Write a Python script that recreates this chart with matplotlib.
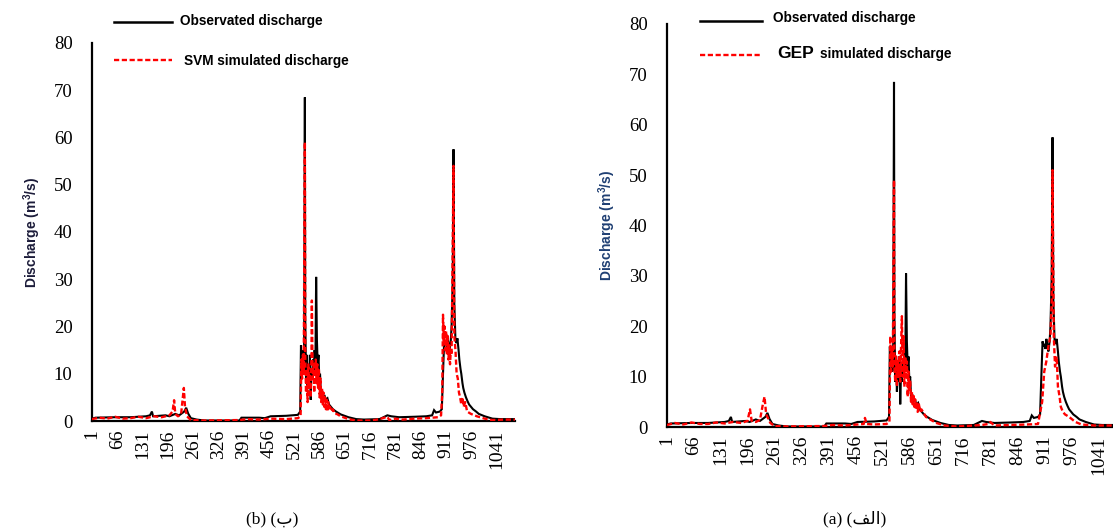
import matplotlib
matplotlib.use("Agg")
import matplotlib.pyplot as plt
from matplotlib.lines import Line2D

# ---------------- data ----------------
obs_days = [1, 10, 60, 100, 140, 150, 155, 158, 190, 200, 215, 225, 238, 243, 248, 255,
            270, 290, 380, 385, 430, 445, 460, 500, 530, 536, 538, 540, 542, 544, 546, 548,
            549, 551, 553, 555, 557, 559, 561, 563, 565, 567, 569, 571, 573, 575, 577, 579,
            581, 583, 585, 587, 589, 592, 595, 598, 602, 606, 610, 615, 620, 628, 640, 660,
            680, 700, 740, 760, 770, 790, 830, 860, 875, 880, 885, 895, 900, 903, 906, 908,
            910, 913, 915, 918, 920, 923, 925, 928, 930, 932, 935, 938, 940, 943, 945, 948,
            950, 953, 955, 958, 962, 966, 970, 975, 980, 988, 995, 1010, 1030, 1050, 1088]
obs_vals = [0.5, 0.7, 0.8, 0.8, 1.0, 1.2, 2.0, 1.0, 1.2, 1.0, 1.5, 1.2, 2.0, 2.8, 1.6, 0.6,
            0.3, 0.1, 0.1, 0.7, 0.7, 0.6, 1.0, 1.1, 1.3, 2.0, 16.0, 12.0, 15.0, 11.0, 13.0, 68.5,
            22.0, 9.0, 14.0, 7.0, 12.0, 9.0, 14.0, 4.5, 11.0, 9.0, 13.0, 10.0, 15.0, 11.0, 30.5, 17.0,
            12.0, 14.0, 9.0, 10.0, 6.0, 6.5, 5.0, 5.5, 4.5, 4.8, 3.5, 3.0, 2.5, 2.0, 1.4, 0.8,
            0.4, 0.3, 0.4, 1.2, 1.0, 0.8, 0.9, 1.0, 1.2, 2.3, 1.8, 2.0, 2.5, 10.0, 17.0, 16.0,
            16.5, 15.5, 17.5, 16.0, 15.0, 17.0, 20.0, 30.0, 57.5, 25.0, 17.0, 16.5, 17.5, 15.0, 13.0, 11.0,
            10.0, 8.0, 7.0, 6.0, 5.0, 4.2, 3.5, 3.0, 2.5, 2.0, 1.5, 1.0, 0.5, 0.4, 0.4]

svm_days = [1, 20, 40, 60, 80, 100, 120, 140, 160, 180, 200, 208, 212, 215, 222, 230, 237,
            240, 245, 255, 290, 380, 400, 430, 460, 500, 530, 537, 539, 541, 543, 545, 548, 549,
            551, 553, 555, 557, 559, 561, 563, 565, 566, 568, 570, 572, 574, 576, 578, 580, 582,
            584, 586, 588, 590, 592, 594, 596, 598, 600, 602, 604, 606, 608, 610, 613, 616, 620,
            625, 630, 640, 660, 680, 720, 740, 760, 765, 780, 800, 830, 860, 890, 898, 901, 903,
            905, 907, 909, 911, 913, 915, 917, 919, 921, 923, 925, 927, 930, 932, 935, 938, 941,
            944, 947, 950, 953, 956, 960, 965, 975, 990, 1010, 1030, 1060, 1088]
svm_vals = [0.4, 0.7, 0.5, 0.9, 0.5, 0.6, 0.9, 0.6, 1.0, 0.8, 1.2, 2.0, 4.4, 1.5, 1.0, 1.5, 7.0,
            3.0, 1.0, 0.2, 0.1, 0.2, 0.4, 0.3, 0.5, 0.4, 0.6, 1.0, 13.0, 9.0, 14.0, 10.0, 59.0, 14.0,
            6.0, 11.0, 4.0, 12.0, 7.0, 10.0, 5.0, 14.0, 25.5, 9.0, 12.0, 6.0, 11.0, 13.0, 8.0, 12.0, 7.0,
            11.0, 5.0, 9.0, 4.0, 7.0, 3.5, 6.0, 3.0, 5.0, 2.5, 4.5, 2.0, 4.0, 2.5, 3.0, 2.0, 2.5,
            1.5, 1.5, 1.0, 0.4, 0.1, 0.1, 0.4, 0.9, 0.2, 0.5, 0.3, 0.5, 0.6, 0.8, 1.2, 6.0, 22.5,
            17.0, 20.0, 15.0, 19.0, 14.0, 18.0, 13.0, 16.0, 12.0, 15.0, 14.0, 30.0, 54.0, 18.0, 15.0, 10.0, 9.0,
            6.0, 5.0, 3.5, 5.0, 3.0, 4.0, 2.0, 1.5, 1.0, 0.5, 0.2, 0.3, 0.3]

gep_days = [1, 20, 40, 60, 80, 100, 120, 140, 160, 180, 195, 201, 205, 215, 225, 232, 236,
            240, 250, 260, 290, 380, 400, 430, 460, 475, 478, 482, 500, 530, 537, 539, 541, 543,
            545, 548, 549, 551, 553, 555, 557, 559, 561, 563, 565, 567, 569, 571, 573, 575, 577,
            579, 581, 583, 585, 587, 589, 591, 593, 595, 597, 599, 601, 603, 605, 608, 611, 614,
            618, 625, 635, 650, 670, 700, 760, 775, 780, 790, 830, 870, 895, 905, 910, 915, 920,
            925, 928, 930, 933, 936, 940, 943, 947, 950, 955, 960, 970, 985, 1000, 1030, 1060, 1088]
gep_vals = [0.4, 0.8, 0.5, 0.9, 0.6, 0.6, 0.9, 0.7, 1.0, 0.8, 1.2, 3.5, 1.2, 1.0, 1.4, 4.5, 6.0,
            2.5, 0.8, 0.2, 0.1, 0.2, 0.4, 0.3, 0.5, 0.6, 1.8, 0.6, 0.5, 0.6, 1.0, 18.0, 11.0, 15.0,
            12.0, 49.0, 12.0, 9.0, 14.0, 8.0, 13.0, 10.0, 15.0, 9.0, 16.0, 22.0, 10.0, 18.0, 8.0, 14.0, 10.0,
            13.0, 6.0, 11.0, 7.0, 9.0, 5.0, 7.0, 4.5, 6.5, 4.0, 5.5, 3.5, 5.0, 3.0, 4.5, 3.0, 3.5,
            3.0, 2.0, 1.5, 0.8, 0.3, 0.1, 0.4, 0.6, 1.0, 0.3, 0.4, 0.5, 0.6, 5.0, 11.0, 13.0, 16.0,
            18.0, 25.0, 51.0, 18.0, 12.0, 14.0, 8.0, 6.0, 4.0, 3.0, 2.5, 2.0, 1.0, 0.5, 0.3, 0.3, 0.3]

tick_days = [1, 66, 131, 196, 261, 326, 391, 456, 521, 586, 651, 716, 781, 846, 911, 976, 1041]
y_ticks = [0, 10, 20, 30, 40, 50, 60, 70, 80]
n_days = 1088

# ---------------- figure ----------------
W, H = 1113, 531
fig = plt.figure(figsize=(W / 100, H / 100), dpi=100)
plt.rcParams['mathtext.fontset'] = 'custom'
plt.rcParams['mathtext.bf'] = 'Liberation Sans:bold'
plt.rcParams['mathtext.rm'] = 'Liberation Sans:bold'


def fx(px):
    return px / W


def fy(py):
    return 1 - py / H


def make_axes(left, right, top, bottom):
    return fig.add_axes([fx(left), fy(bottom), fx(right) - fx(left), fy(top) - fy(bottom)])


def style_axes(ax, ylabel_color):
    for s in ('top', 'right'):
        ax.spines[s].set_visible(False)
    for s in ('left', 'bottom'):
        ax.spines[s].set_linewidth(1.6)
        ax.spines[s].set_color('black')
    ax.set_xlim(1, n_days)
    ax.set_ylim(0, 80)
    ax.set_yticks(y_ticks)
    ax.set_yticklabels([str(v) for v in y_ticks], fontsize=13.5, family='Liberation Serif')
    ax.set_xticks(tick_days)
    ax.set_xticklabels([str(v) for v in tick_days], rotation=90, fontsize=14,
                       family='Liberation Serif')
    ax.tick_params(axis='y', length=0, pad=14)
    ax.tick_params(axis='x', length=0, pad=6)
    ax.set_ylabel(r'Discharge (m$^{3}$/s)', fontsize=10, fontweight='bold',
                  family='Liberation Sans', color=ylabel_color, labelpad=8)


def plot_series(ax, sim_days, sim_vals):
    ax.plot(obs_days, obs_vals, color='black', lw=1.5, solid_joinstyle='miter', zorder=2)
    ax.plot(sim_days, sim_vals, color='#ff0000', lw=1.7, dashes=(2.2, 1.1), zorder=3)


# left panel (SVM)
axL = make_axes(92, 515, 43, 421)
plot_series(axL, svm_days, svm_vals)
style_axes(axL, '#1c1c3a')

# right panel (GEP), cropped at the image edge
axR = make_axes(667, 667 + 0.415 * (n_days - 1), 24, 427)
plot_series(axR, gep_days, gep_vals)
style_axes(axR, '#1f3f73')

# ---------------- legends ----------------
def leg_line(x0, x1, y, dashed):
    if dashed:
        ln = Line2D([fx(x0), fx(x1)], [fy(y), fy(y)], transform=fig.transFigure,
                    color='#ff0000', lw=1.7, dashes=(2.2, 1.1))
    else:
        ln = Line2D([fx(x0), fx(x1)], [fy(y), fy(y)], transform=fig.transFigure,
                    color='black', lw=1.8)
    fig.add_artist(ln)


leg_line(114, 172, 22, False)
fig.text(fx(180), fy(21), 'Observated discharge', fontsize=9.8, fontweight='bold',
         family='Liberation Sans', va='center', ha='left')
leg_line(114, 172, 60, True)
fig.text(fx(184), fy(61), 'SVM simulated discharge', fontsize=9.8, fontweight='bold',
         family='Liberation Sans', va='center', ha='left')

leg_line(700, 762, 21, False)
fig.text(fx(773), fy(18), 'Observated discharge', fontsize=9.8, fontweight='bold',
         family='Liberation Sans', va='center', ha='left')
leg_line(700, 762, 55, True)
fig.text(fx(777), fy(53), 'GEP', fontsize=12.5, fontweight='bold',
         family='Liberation Sans', va='center', ha='left')
fig.text(fx(820), fy(54), 'simulated discharge', fontsize=9.8, fontweight='bold',
         family='Liberation Sans', va='center', ha='left')

# ---------------- captions ----------------
fig.text(fx(272), fy(519), '(b) (\u0628)', fontsize=12.5,
         family=['Liberation Serif', 'DejaVu Sans'], ha='center', va='center')
fig.text(fx(855), fy(519), '(a) (\ufed2\ufedf\ufe8d)', fontsize=12.5,
         family=['Liberation Serif', 'DejaVu Sans'], ha='center', va='center')

fig.savefig('out.png', dpi=100)
